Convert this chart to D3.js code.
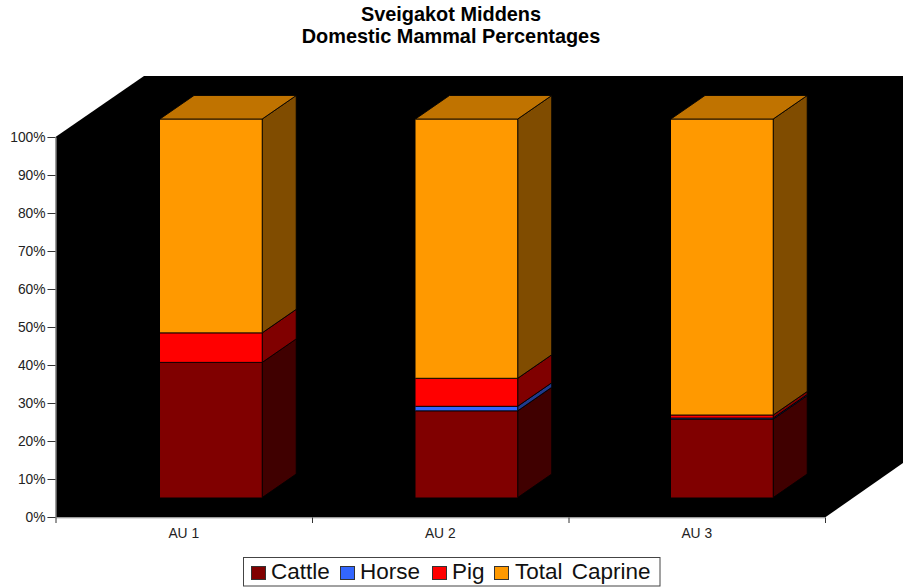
<!DOCTYPE html>
<html><head><meta charset="utf-8">
<script src="https://cdn.jsdelivr.net/npm/d3@7"></script>
<style>html,body{margin:0;padding:0;background:#fff}svg{display:block}text{font-family:"Liberation Sans",Arial,sans-serif}</style>
</head><body><svg id="c" width="903" height="587"></svg>
<script>
const titleLines=["Sveigakot Middens","Domestic Mammal Percentages"];
const categories=["AU 1","AU 2","AU 3"];
const seriesNames=["Cattle","Horse","Pig","Total Caprine"];
const cattle=[35.7,22.9,20.7];
const horse=[0,1.2,0.3];
const pig=[7.8,7.4,0.8];
const caprine=[56.5,68.5,78.2];
const seriesColors=["#800000","#3366ff","#ff0000","#ff9900"];
const sideColors=["#400000","#1f3a8c","#800000","#804c00"];
const topColors=["#600000","#264db3","#c00000","#c07300"];
const yTicks=[0,10,20,30,40,50,60,70,80,90,100];

const rows=categories.map((c,i)=>({cat:c,Cattle:cattle[i],Horse:horse[i],Pig:pig[i],"Total Caprine":caprine[i]}));
const stacked=d3.stack().keys(seriesNames)(rows);

const svg=d3.select("#c");
const L=55.5,R=825,B=517.5,T=137,DX=88.5,DY=61;
const yAxisScale=d3.scaleLinear().domain([0,100]).range([517,137]);
const edge=d3.scaleLinear().domain([0,3]).range([L,R]);
const catAxis=d3.scaleBand().domain(categories).range([L,R]);
// Bars stand part-way into the floor depth
const barX=d3.scaleBand().domain(categories).range([83.35,849.85]).paddingInner(0.6).paddingOuter(0.3);
const barY=d3.scaleLinear().domain([0,100]).range([497.5,119]);
const bdx=34,bdy=-23.5;
const poly=p=>p.map(q=>q.join(",")).join(" ");

// black 3-D walls and floor
svg.append("polygon").attr("fill","#000")
  .attr("points",poly([[L,T],[L+DX,T-DY],[903,T-DY],[903,B-54.5],[R,B],[L,B]]));

// bars
stacked.forEach((s,si)=>{
  const g=svg.append("g").attr("class","series");
  s.forEach(d=>{
    const x0=barX(d.data.cat),x1=x0+barX.bandwidth();
    const y0=barY(d[0]),y1=barY(d[1]);
    if(y0-y1<=0)return;
    g.append("polygon").attr("fill",sideColors[si]).attr("stroke","#000").attr("stroke-opacity",.85).attr("stroke-width",1)
      .attr("points",poly([[x1,y0],[x1+bdx,y0+bdy],[x1+bdx,y1+bdy],[x1,y1]]));
    g.append("rect").attr("x",x0).attr("y",y1).attr("width",x1-x0).attr("height",y0-y1)
      .attr("fill",seriesColors[si]);
    g.append("path").attr("fill","none").attr("stroke","#000").attr("stroke-opacity",.85).attr("stroke-width",1)
      .attr("d",`M${x0},${y1}H${x1}V${y0}${si?`H${x0}`:""}`);
    if(si===seriesNames.length-1){
      svg.append("polygon").attr("fill",topColors[si]).attr("stroke","#000").attr("stroke-opacity",.85).attr("stroke-width",1)
        .attr("points",poly([[x0,y1],[x0+bdx,y1+bdy],[x1+bdx,y1+bdy],[x1,y1]]));
    }
  });
});

// y axis
const yAxis=svg.append("g").attr("transform",`translate(${L},0)`)
  .call(d3.axisLeft(yAxisScale).tickValues(yTicks).tickFormat(d=>d+"%").tickSize(8).tickPadding(2));
yAxis.select(".domain").attr("stroke","#bbb").attr("stroke-width",1);
yAxis.selectAll("text").attr("font-size",13.8).attr("fill","#222").style("font-family",'"Liberation Sans",Arial,sans-serif');
yAxis.selectAll("line").attr("stroke","#333");

// x axis edges
const xEdges=svg.append("g").attr("transform",`translate(0,${B})`)
  .call(d3.axisBottom(edge).tickValues([0,1,2,3]).tickFormat("").tickSize(5.5).tickSizeOuter(0));
xEdges.select(".domain").attr("stroke","#bbb");
xEdges.selectAll("line").attr("stroke","#333");
const xLabels=svg.append("g").attr("transform",`translate(0,${B})`)
  .call(d3.axisBottom(catAxis).tickSize(0).tickPadding(11));
xLabels.select(".domain").remove();
xLabels.selectAll("text").attr("font-size",13.8).attr("fill","#222").style("font-family",'"Liberation Sans",Arial,sans-serif');

// title
svg.append("g").selectAll("text").data(titleLines).join("text")
  .attr("x",451).attr("y",(d,i)=>21+i*22).attr("text-anchor","middle")
  .attr("font-size",19.9).attr("font-weight","bold").attr("fill","#000").text(d=>d);

// legend
const lg=svg.append("g");
lg.append("rect").attr("x",243.5).attr("y",557.5).attr("width",416.5).attr("height",28.5)
  .attr("fill","#fff").attr("stroke","#444");
const swX=[251,340,432,494],txX=[271,360,452,515];
seriesNames.forEach((n,i)=>{
  lg.append("rect").attr("x",swX[i]+.5).attr("y",566.5).attr("width",14).attr("height",13)
    .attr("fill",seriesColors[i]).attr("stroke","#333");
  lg.append("text").attr("x",txX[i]).attr("y",579).attr("font-size",22.5).attr("word-spacing",3).attr("fill","#111").text(n);
});
</script></body></html>
